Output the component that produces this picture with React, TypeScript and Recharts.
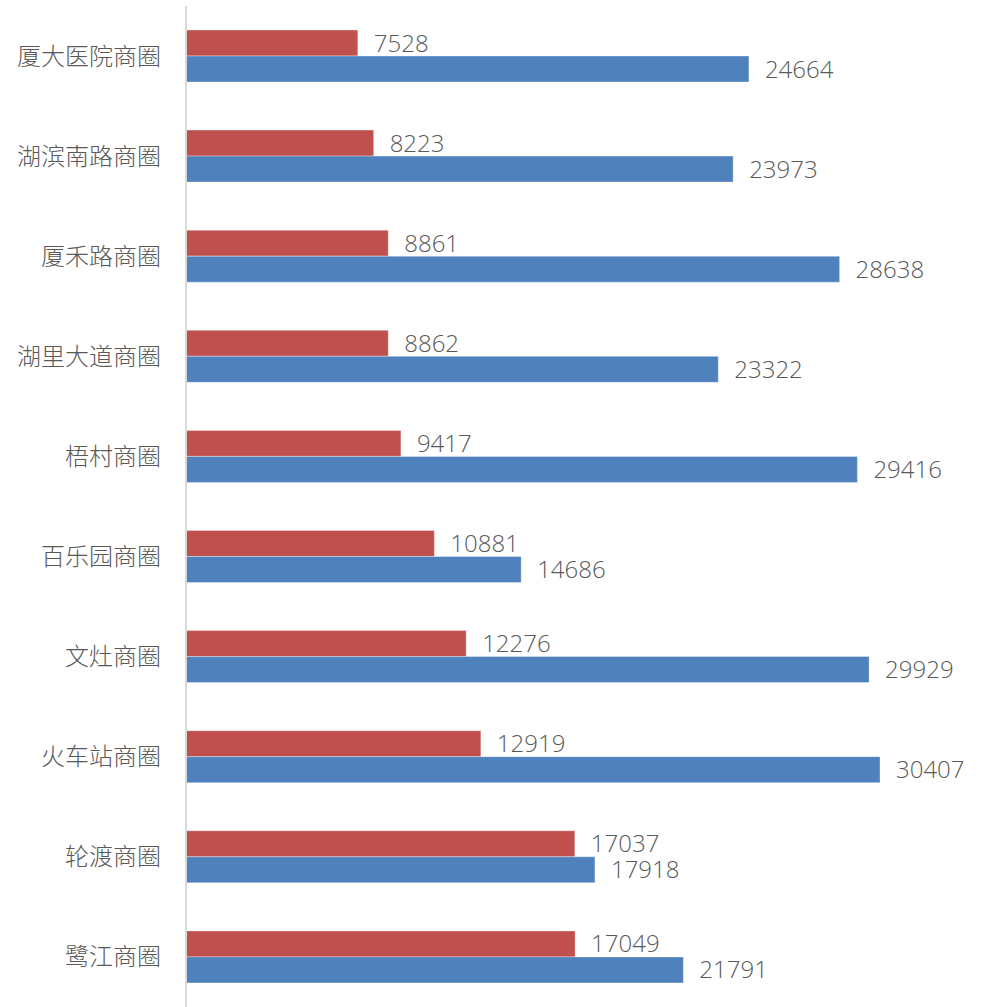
import React from "react";
import { BarChart, Bar, XAxis, YAxis, LabelList } from "recharts";

const categories = ["厦大医院商圈", "湖滨南路商圈", "厦禾路商圈", "湖里大道商圈", "梧村商圈", "百乐园商圈", "文灶商圈", "火车站商圈", "轮渡商圈", "鹭江商圈"];
const redValues = [7528, 8223, 8861, 8862, 9417, 10881, 12276, 12919, 17037, 17049];
const blueValues = [24664, 23973, 28638, 23322, 29416, 14686, 29929, 30407, 17918, 21791];

const data = categories.map((name, i) => ({ name, red: redValues[i], blue: blueValues[i] }));

const numFont = "'Open Sans', 'Noto Sans', sans-serif";
const cjkFont = "'Noto Sans CJK SC', sans-serif";

export default function App() {
  return (
    <div style={{ position: "absolute", left: 0, top: 0, width: 982, height: 1007, background: "#fff" }}>
      <BarChart
        width={982}
        height={1007}
        data={data}
        layout="vertical"
        margin={{ top: 6, right: 20, bottom: 0, left: 0 }}
        barGap={0}
        barSize={26}
      >
        <XAxis type="number" domain={[0, 34000]} hide />
        <YAxis
          type="category"
          dataKey="name"
          width={186}
          tickLine={false}
          tickSize={0}
          tickMargin={25}
          axisLine={{ stroke: "#d9d9d9", strokeWidth: 2 }}
          tick={{ fill: "#595959", fontSize: 24, fontFamily: cjkFont, fontWeight: 300 }}
          interval={0}
        />
        <Bar dataKey="red" fill="#C0504D" stroke="#ffffff" strokeOpacity={0.35} strokeWidth={1} isAnimationActive={false}>
          <LabelList dataKey="red" position="right" offset={16} fill="#595959" fontSize={24} fontFamily={numFont} fontWeight={300} />
        </Bar>
        <Bar dataKey="blue" fill="#4F81BD" stroke="#ffffff" strokeOpacity={0.35} strokeWidth={1} isAnimationActive={false}>
          <LabelList dataKey="blue" position="right" offset={16} fill="#595959" fontSize={24} fontFamily={numFont} fontWeight={300} />
        </Bar>
      </BarChart>
    </div>
  );
}
